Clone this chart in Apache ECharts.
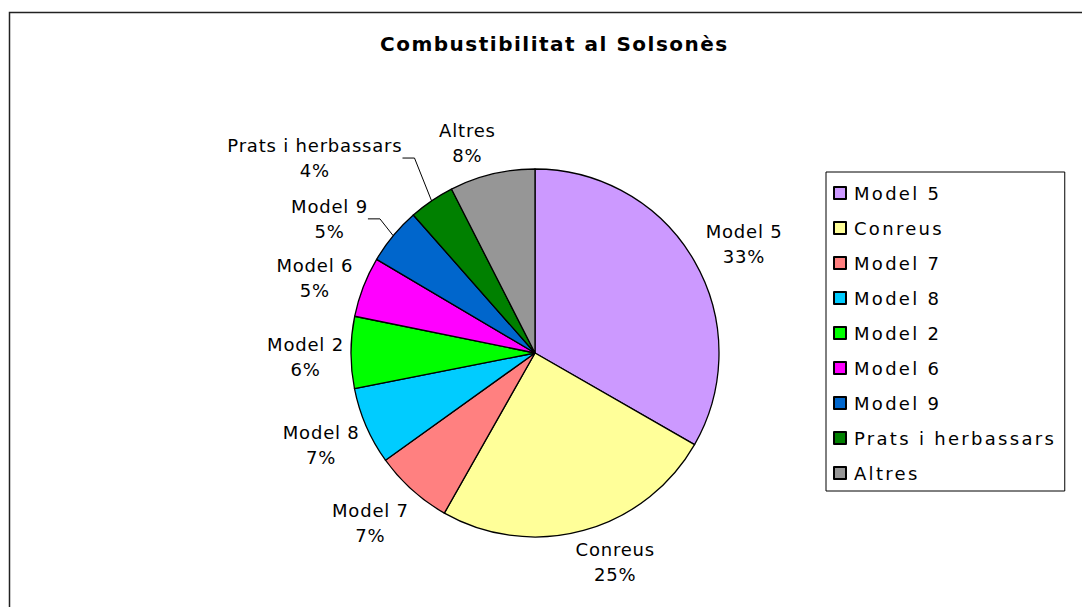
<!DOCTYPE html>
<html>
<head>
<meta charset="utf-8">
<title>Combustibilitat al Solsonès</title>
<script src="https://cdn.jsdelivr.net/npm/echarts@6/dist/echarts.min.js"></script>
<style>
  html, body { margin: 0; padding: 0; background: #fff; }
  #chart { width: 1082px; height: 607px; }
  /* el gràfic original té el text una mica espaiat */
  #chart text { letter-spacing: 0.8px; }
  #chart text[style*="Verdana"] { letter-spacing: 2.3px; }
  #chart text[style*="Arial"] { letter-spacing: 1.5px; }
</style>
</head>
<body>
<div id="chart"></div>
<script>
// dades del gràfic
const categories = ['Model 5', 'Conreus', 'Model 7', 'Model 8', 'Model 2', 'Model 6', 'Model 9', 'Prats i herbassars', 'Altres']
const shares = [33.3, 24.9, 6.9, 6.8, 6.3, 5.3, 5.0, 4.0, 7.5]
const sliceColors = ['#CC99FF', '#FFFF99', '#FF8080', '#00CCFF', '#00FF00', '#FF00FF', '#0066CC', '#008000', '#969696']
const withLeader = ['Model 9', 'Prats i herbassars']

// geometria del pastís (px)
const CX = 535
const CY = 353
const R = 184
const LABEL_GAP = 6
const LABEL_LS = 0.8
// retocs de posició de cada etiqueta (px)
const labelShift = {
  'Model 5': [5, 9],
  'Conreus': [21, -8],
  'Model 7': [-8, -4],
  'Model 8': [2, -1],
  'Model 2': [-1, 5],
  'Model 6': [-1, 9],
  'Model 9': [-24, 16],
  'Prats i herbassars': [-74, 20],
  'Altres': [-16, 5]
}

const total = shares.reduce((a, b) => a + b, 0)
const midAngles = []
let acc = 0
shares.forEach(v => {
  midAngles.push((acc + v / 2) / total * Math.PI * 2)
  acc += v
})

const chart = echarts.init(document.getElementById('chart'), null, { renderer: 'svg' })

const seriesData = categories.map((name, i) => {
  const item = { name: name, value: shares[i], itemStyle: { color: sliceColors[i] } }
  if (withLeader.includes(name)) {
    item.labelLine = { show: true }
  }
  return item
})

const option = {
  animation: false,
  backgroundColor: '#fff',
  title: {
    text: 'Combustibilitat al Solsonès',
    left: 380,
    top: 34,
    padding: 0,
    textStyle: {
      fontFamily: 'DejaVu Sans, Arial',
      fontWeight: 'bold',
      fontSize: 20,
      color: '#000'
    }
  },
  legend: {
    orient: 'vertical',
    left: 826,
    top: 172,
    padding: [11, 50, 8, 7],
    borderColor: '#000',
    borderWidth: 1,
    icon: 'path://M0,0H10V10H0Z',
    itemWidth: 18,
    itemHeight: 12,
    itemGap: 15,
    selectedMode: false,
    data: categories,
    textStyle: {
      fontFamily: 'DejaVu Sans, Verdana',
      fontSize: 18,
      lineHeight: 20,
      color: '#000'
    }
  },
  graphic: [
    {
      type: 'rect',
      shape: { x: 9.5, y: 12.5, width: 1100, height: 620 },
      style: { fill: 'none', stroke: '#222', lineWidth: 1.5 },
      silent: true
    }
  ],
  series: [
    {
      type: 'pie',
      center: [CX, CY],
      radius: R,
      startAngle: 90,
      clockwise: true,
      percentPrecision: 0,
      avoidLabelOverlap: false,
      emphasis: { disabled: true },
      itemStyle: {
        borderColor: '#000',
        borderWidth: 1.3
      },
      label: {
        show: true,
        position: 'outside',
        formatter: '{b}\n{d}%',
        fontFamily: 'DejaVu Sans',
        fontSize: 18,
        lineHeight: 25,
        color: '#000'
      },
      labelLine: {
        show: false,
        length: 4,
        length2: 0,
        lineStyle: { color: '#000', width: 1 }
      },
      labelLayout: params => {
        const i = params.dataIndex
        // amplada amb l'espaiat de lletres inclòs
        const longest = Math.max.apply(null, String(params.text).split('\n').map(s => s.length))
        const w = params.labelRect.width + LABEL_LS * longest
        const h = params.labelRect.height
        const sx = Math.sin(midAngles[i])
        const sy = -Math.cos(midAngles[i])
        const ext = Math.abs(sx) * w / 2 + Math.abs(sy) * h / 2
        const dist = R + LABEL_GAP + ext
        const shift = labelShift[categories[i]] || [0, 0]
        const x = CX + sx * dist + shift[0]
        const y = CY + sy * dist + shift[1]
        const out = { x: x, y: y, align: 'center', verticalAlign: 'middle' }
        if (withLeader.includes(categories[i])) {
          const right = x + w / 2
          out.labelLinePoints = [[CX + sx * R, CY + sy * R], [right + 12, y], [right, y]]
        }
        return out
      },
      data: seriesData
    }
  ]
}

chart.setOption(option)
</script>
</body>
</html>
